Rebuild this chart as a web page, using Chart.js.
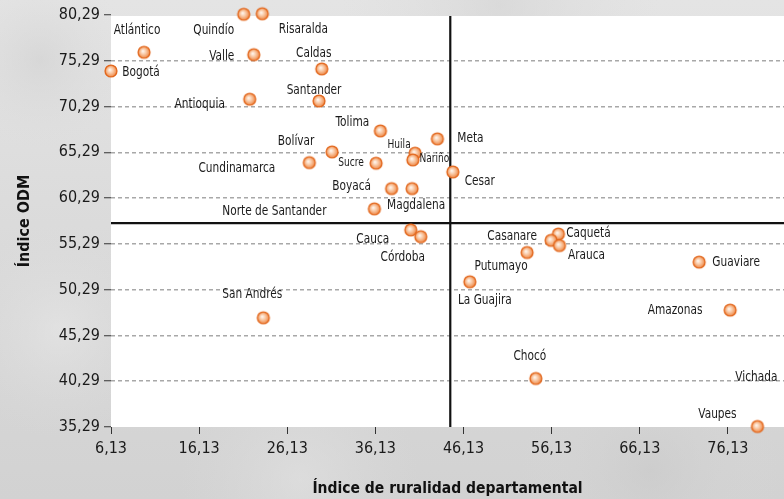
<!DOCTYPE html>
<html><head><meta charset="utf-8">
<script src="https://cdn.jsdelivr.net/npm/chart.js@4/dist/chart.umd.min.js"></script>
<style>html,body{margin:0;padding:0;background:#d8d8d8;}canvas{display:block;}</style>
</head><body>
<canvas id="c" width="784" height="499"></canvas>
<script>
// ---- data ----
const departments = ['Quindío','Risaralda','Atlántico','Bogotá','Valle','Caldas','Santander','Antioquia','Tolima','Bolívar','Cundinamarca','Sucre','Boyacá','Magdalena','Norte de Santander','Meta','Huila','Nariño','Cesar','Cauca','Córdoba','Caquetá','Casanare','Arauca','Putumayo','La Guajira','Guaviare','Amazonas','Chocó','Vichada','Vaupes','San Andrés'];
const rurality = [21.19,23.30,9.88,6.13,22.33,30.05,29.74,21.87,36.70,31.22,28.64,36.21,37.97,40.30,36.02,43.17,40.64,40.38,44.92,40.15,41.28,56.90,56.07,57.02,53.35,46.85,72.87,76.39,54.34,85.00,79.49,23.42];
const odm = [80.37,80.43,76.22,74.18,75.96,74.40,70.90,71.09,67.63,65.34,64.17,64.10,61.33,61.33,59.12,66.76,65.20,64.46,63.15,56.82,56.08,56.37,55.68,55.11,54.35,51.15,53.30,48.06,40.59,40.40,35.35,47.22];
const xTicks = [6.13,16.13,26.13,36.13,46.13,56.13,66.13,76.13];
const yTicks = [35.29,40.29,45.29,50.29,55.29,60.29,65.29,70.29,75.29,80.29];
const xCut = 44.63;   // mean rurality (vertical line)
const yCut = 57.55;   // mean ODM (horizontal line)
const xTitle = 'Índice de ruralidad departamental';
const yTitle = 'Índice ODM';

// ---- label placement (pixel offsets from the point) ----
const labelOffsets = {
  'Quindío':[-30,16],'Risaralda':[41,16],'Atlántico':[-7,-22],'Bogotá':[30,1.5],'Valle':[-32,1.5],
  'Caldas':[-8,-15.5],'Santander':[-5,-11],'Antioquia':[-50,5],'Tolima':[-28,-8.5],'Bolívar':[-36,-10.5],
  'Cundinamarca':[-72.5,6],'Sucre':[-25,0],'Boyacá':[-40,-2],'Magdalena':[4,17],'Norte de Santander':[-100,3],
  'Meta':[33,-1],'Huila':[-16,-8],'Nariño':[21.5,-1],'Cesar':[27,9],'Cauca':[-38,9],'Córdoba':[-18,21],
  'Caquetá':[30,-1],'Casanare':[-39,-4],'Arauca':[27,10],'Putumayo':[-26,14],'La Guajira':[15,19],
  'Guaviare':[37,0.5],'Amazonas':[-55,0],'Chocó':[-6,-22],'Vichada':[-49.6,-2.7],'Vaupes':[-40,-12],'San Andrés':[-11,-23]
};
const smallLabels = ['Huila','Nariño','Sucre'];

const FONT = "'Liberation Sans Narrow','DejaVu Sans Condensed','Arial Narrow',sans-serif";
const fmt = v => Number(v).toFixed(2).replace('.', ',');

function makeMarker(){
  const s=16, r=6.5, c=document.createElement('canvas'); c.width=s; c.height=s;
  const g=c.getContext('2d');
  const grad=g.createRadialGradient(s/2-1.2,s/2-1.2,0.3,s/2,s/2,r);
  grad.addColorStop(0,'#fff6ee'); grad.addColorStop(0.45,'#f8c49e'); grad.addColorStop(1,'#ee7d36');
  g.beginPath(); g.arc(s/2,s/2,r-0.6,0,Math.PI*2); g.fillStyle=grad; g.fill();
  g.lineWidth=1.4; g.strokeStyle='#e2681e'; g.stroke();
  return c;
}

const bgPlugin = {
  id:'bg',
  beforeDraw(chart){
    const {ctx, chartArea:a, width, height} = chart;
    ctx.save();
    const lg = ctx.createLinearGradient(0,0,0,height);
    lg.addColorStop(0,'#e4e4e4'); lg.addColorStop(0.5,'#dadada'); lg.addColorStop(1,'#d2d2d2');
    ctx.fillStyle=lg; ctx.fillRect(0,0,width,height);
    const spots=[[40,60,90,'rgba(205,205,205,0.5)'],[60,330,110,'rgba(235,235,235,0.5)'],[300,480,120,'rgba(230,230,230,0.5)'],[650,470,130,'rgba(198,198,198,0.45)'],[500,5,160,'rgba(208,208,208,0.5)']];
    spots.forEach(([x,y,r,col])=>{const rg=ctx.createRadialGradient(x,y,0,x,y,r);rg.addColorStop(0,col);rg.addColorStop(1,'rgba(220,220,220,0)');ctx.fillStyle=rg;ctx.fillRect(0,0,width,height);});
    ctx.fillStyle='#ffffff';
    ctx.fillRect(a.left, a.top+1, a.right-a.left, a.bottom-a.top-1);
    ctx.restore();
  },
  beforeDatasetsDraw(chart){
    const {ctx, chartArea:a, scales:{x,y}} = chart;
    const px=x.getPixelForValue(xCut), py=y.getPixelForValue(yCut);
    ctx.save(); ctx.strokeStyle='#111'; ctx.lineWidth=2.2;
    ctx.beginPath(); ctx.moveTo(px,a.top+1); ctx.lineTo(px,a.bottom); ctx.stroke();
    ctx.beginPath(); ctx.moveTo(a.left,py); ctx.lineTo(a.right,py); ctx.stroke();
    ctx.restore();
  },
  afterDatasetsDraw(chart){
    const {ctx} = chart;
    const meta = chart.getDatasetMeta(0);
    const sx = 0.84;
    ctx.save(); ctx.fillStyle='#1a1a1a'; ctx.textAlign='center'; ctx.textBaseline='middle';
    meta.data.forEach((pt,i)=>{
      const name=departments[i]; const off=labelOffsets[name]||[0,-14];
      ctx.font=(smallLabels.includes(name)?'12px ':'14px ')+FONT;
      const w=ctx.measureText(name).width*sx;
      let px=pt.x+off[0];
      if(px+w/2>chart.width-2) px=chart.width-2-w/2;
      ctx.save(); ctx.translate(px, pt.y+off[1]); ctx.scale(sx,1);
      ctx.fillText(name, 0, 0);
      ctx.restore();
    });
    ctx.restore();
  }
};

const marker = makeMarker();
new Chart(document.getElementById('c'), {
  type:'scatter',
  data:{ datasets:[{ data: rurality.map((v,i)=>({x:v,y:odm[i]})), pointStyle: marker, pointRadius:6.5, pointHoverRadius:6.5, clip:false }]},
  options:{
    responsive:false, animation:false,
    layout:{autoPadding:false, padding:{top:15,right:0,left:0,bottom:0}},
    plugins:{legend:{display:false},tooltip:{enabled:false}},
    scales:{
      x:{ type:'linear', min:6.13, max:82.5,
        afterBuildTicks: s=>{ s.ticks = xTicks.map(v=>({value:v})); },
        afterFit: s=>{ s.height = 72; },
        border:{display:false},
        grid:{drawOnChartArea:false, drawTicks:true, tickLength:7, tickColor:'#333', tickWidth:1},
        ticks:{ callback: v=>fmt(v), font:{family:FONT,size:16}, color:'#1a1a1a', padding:5, maxRotation:0, autoSkip:false },
        title:{display:true, text:xTitle, font:{family:FONT,size:15.5,weight:'bold'}, color:'#111', padding:{top:0,bottom:1}, align:'center'}
      },
      y:{ type:'linear', min:35.29, max:80.29,
        afterBuildTicks: s=>{ s.ticks = yTicks.map(v=>({value:v})); },
        afterFit: s=>{ s.width = 111; },
        border:{display:false, dash:[4,3]},
        grid:{ color: c=> (c.tick && (c.tick.value===yTicks[0] || c.tick.value===yTicks[yTicks.length-1])) ? 'rgba(0,0,0,0)' : '#a8a8a8',
               lineWidth:1.5, drawTicks:true, tickLength:7, tickColor:'#333', tickWidth:1, tickBorderDash:[] },
        ticks:{ callback: v=>fmt(v), font:{family:FONT,size:16}, color:'#1a1a1a', padding:4, autoSkip:false },
        title:{display:true, text:yTitle, font:{family:FONT,size:16,weight:'bold'}, color:'#111', padding:{top:15,bottom:0}}
      }
    }
  },
  plugins:[bgPlugin]
});
</script>
</body></html>
